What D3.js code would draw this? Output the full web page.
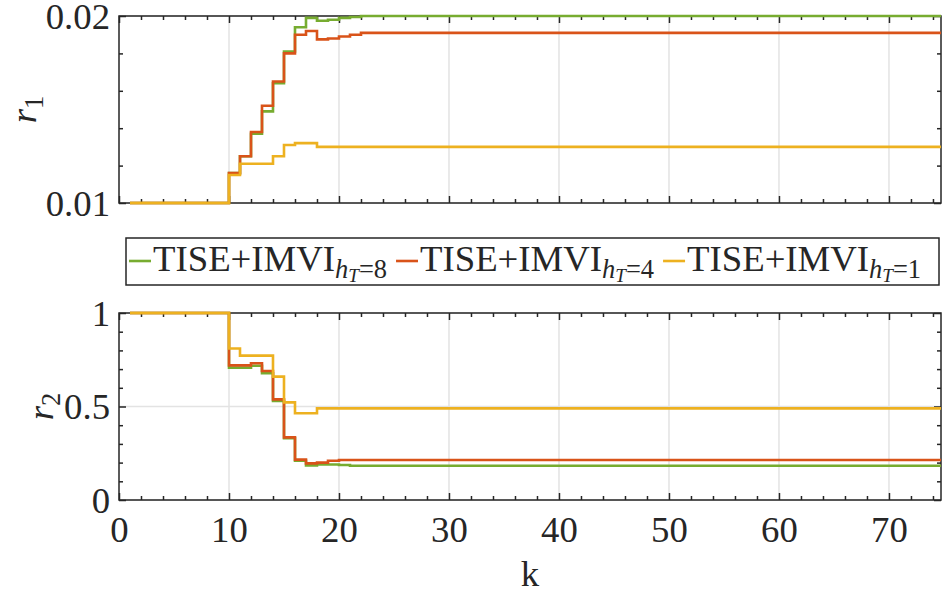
<!DOCTYPE html>
<html>
<head>
<meta charset="utf-8">
<script src="https://cdn.jsdelivr.net/npm/d3@7"></script>
<style>
    body { margin: 0; background: #fff; }
</style>
</head>
<body>
<div id="chart"></div>
<script>
'use strict'
// k where the stairs change value (last one = end of the run)
var kSteps = [1, 10, 11, 12, 13, 14, 15, 16, 17, 18, 19, 20, 21, 22, 75];

// r1 for each horizon h_T
var r1Ht8 = [0.01, 0.0116, 0.0125, 0.0137, 0.0149, 0.0164, 0.0181, 0.0194, 0.0199, 0.01975, 0.0198, 0.0199, 0.01995, 0.0200, 0.0200];
var r1Ht4 = [0.01, 0.0116, 0.0125, 0.0138, 0.0152, 0.0165, 0.0180, 0.0190, 0.0192, 0.01875, 0.0188, 0.0189, 0.0190, 0.0191, 0.0191];
var r1Ht1 = [0.01, 0.0115, 0.0121, 0.0121, 0.0121, 0.0125, 0.0131, 0.0132, 0.0132, 0.0130, 0.0130, 0.0130, 0.0130, 0.0130, 0.0130];

// r2 for each horizon h_T
var r2Ht8 = [1, 0.708, 0.708, 0.718, 0.678, 0.530, 0.330, 0.210, 0.185, 0.190, 0.190, 0.187, 0.183, 0.183, 0.183];
var r2Ht4 = [1, 0.720, 0.720, 0.731, 0.690, 0.538, 0.335, 0.216, 0.196, 0.200, 0.210, 0.214, 0.214, 0.214, 0.214];
var r2Ht1 = [1, 0.810, 0.772, 0.772, 0.772, 0.660, 0.522, 0.464, 0.464, 0.490, 0.490, 0.490, 0.490, 0.490, 0.490];

var seriesNames = ["8", "4", "1"];
var seriesColors = ["#77AC30", "#D95319", "#EDB120"];

var xTicks = [0, 10, 20, 30, 40, 50, 60, 70];
var r1Ticks = [0.01, 0.02];
var r2Ticks = [0, 0.5, 1];

var width = 942, height = 597;
var left = 119, right = 941;
var axisColor = "#262626", gridColor = "#e3e3e3";

// pick a Times-like font that is really there, and size it so
// "TISE+IMVI" is as wide as in the reference (~182px)
var canvas = document.createElement("canvas");
var ctx = canvas.getContext("2d");
function measure(str, font) {
    ctx.font = font;
    return ctx.measureText(str).width;
}
function hasFont(fam) {
    var probe = "mmmmwwwwlliiIIMM0123";
    return measure(probe, "40px " + fam + ", monospace") !== measure(probe, "40px monospace");
}
var fontFamily = ['"Liberation Serif"', '"Times New Roman"', 'Tinos', '"Nimbus Roman"', '"DejaVu Serif"', 'serif']
        .filter(hasFont)[0] || "serif";
var fontSize = Math.min(37, 37 * 182 / measure("TISE+IMVI", "37px " + fontFamily));
var subSize = fontSize * 0.72, subSubSize = fontSize * 0.52;

var panels = [
    {top: 16, bottom: 203, domain: [0.01, 0.02], ticks: r1Ticks, minorStep: 0.002,
        fmt: d3.format(".2f"), label: "1", labelX: 36, data: [r1Ht8, r1Ht4, r1Ht1], xLabels: false},
    {top: 313, bottom: 500, domain: [0, 1], ticks: r2Ticks, minorStep: 0.1,
        fmt: function (d) { return d === 0.5 ? "0.5" : String(d); }, label: "2", labelX: 53,
        data: [r2Ht8, r2Ht4, r2Ht1], xLabels: true}
];

var svg = d3.select("#chart").append("svg")
        .attr("width", width)
        .attr("height", height)
        .style("font-family", fontFamily);

var xScale = d3.scaleLinear().domain([0, 74.73]).range([left, right]);

function minorValues(lo, hi, step, majors) {
    var out = [];
    var n = Math.round((hi - lo) / step);
    for (var i = 0; i <= n; i++) {
        var v = +(lo + i * step).toFixed(6);
        if (majors.indexOf(v) < 0) out.push(v);
    }
    return out;
}

var xMinor = minorValues(0, 74, 2, xTicks);

panels.forEach(function (p, pi) {
    var yScale = d3.scaleLinear().domain(p.domain).range([p.bottom, p.top]);
    var g = svg.append("g").attr("class", "panel");
    var h = p.bottom - p.top;

    // grid
    g.selectAll("line.vgrid").data(xTicks.slice(1))
        .enter().append("line")
        .attr("x1", function (d) { return xScale(d); })
        .attr("x2", function (d) { return xScale(d); })
        .attr("y1", p.top).attr("y2", p.bottom)
        .style("stroke", gridColor).style("stroke-width", 1.5);
    g.selectAll("line.hgrid").data(p.ticks)
        .enter().append("line")
        .attr("x1", left).attr("x2", right)
        .attr("y1", function (d) { return yScale(d); })
        .attr("y2", function (d) { return yScale(d); })
        .style("stroke", gridColor).style("stroke-width", 1.5);

    // ticks on all four sides, pointing in
    var yMinor = minorValues(p.domain[0], p.domain[1], p.minorStep, p.ticks);
    var axes = [
        {ax: d3.axisBottom(xScale).tickValues(xTicks).tickSizeInner(-7), tr: "translate(0," + p.bottom + ")", labels: p.xLabels},
        {ax: d3.axisBottom(xScale).tickValues(xMinor).tickSizeInner(-4), tr: "translate(0," + p.bottom + ")"},
        {ax: d3.axisTop(xScale).tickValues(xTicks).tickSizeInner(-7), tr: "translate(0," + p.top + ")"},
        {ax: d3.axisTop(xScale).tickValues(xMinor).tickSizeInner(-4), tr: "translate(0," + p.top + ")"},
        {ax: d3.axisLeft(yScale).tickValues(p.ticks).tickSizeInner(-7), tr: "translate(" + left + ",0)", labels: true},
        {ax: d3.axisLeft(yScale).tickValues(yMinor).tickSizeInner(-4), tr: "translate(" + left + ",0)"},
        {ax: d3.axisRight(yScale).tickValues(p.ticks).tickSizeInner(-7), tr: "translate(" + right + ",0)"},
        {ax: d3.axisRight(yScale).tickValues(yMinor).tickSizeInner(-4), tr: "translate(" + right + ",0)"}
    ];
    axes.forEach(function (a, ai) {
        a.ax.tickSizeOuter(0).tickPadding(ai === 0 ? 16 : 9);
        if (!a.labels) a.ax.tickFormat("");
        else if (ai === 4) a.ax.tickFormat(p.fmt);
        var ag = g.append("g").attr("transform", a.tr).call(a.ax);
        ag.attr("font-family", null).attr("font-size", null);
        ag.select(".domain").remove();
        ag.selectAll("line").style("stroke", axisColor).style("stroke-width", 1.5);
        ag.selectAll("text").style("font-size", fontSize + "px").style("fill", axisColor);
        if (ai === 4) ag.selectAll("text").attr("dy", "0.33em");
        if (ai === 0) ag.selectAll("text").attr("dy", "0.71em");
    });

    g.append("rect")
        .attr("x", left).attr("y", p.top)
        .attr("width", right - left).attr("height", h)
        .style("fill", "none").style("stroke", axisColor).style("stroke-width", 1.5);

    // clip on x only, lines may sit on the box edge
    svg.append("defs").append("clipPath")
        .attr("id", "clip" + pi)
        .append("rect")
        .attr("x", left).attr("y", p.top - 4)
        .attr("width", right - left).attr("height", h + 8);

    var line = d3.line()
        .x(function (d, i) { return xScale(kSteps[i]); })
        .y(function (d) { return yScale(d); })
        .curve(d3.curveStepAfter);

    g.append("g").attr("clip-path", "url(#clip" + pi + ")")
        .selectAll("path.series").data(p.data)
        .enter().append("path")
        .attr("class", "series")
        .attr("d", function (d) { return line(d); })
        .style("fill", "none")
        .style("stroke", function (d, i) { return seriesColors[i]; })
        .style("stroke-width", 2.6)
        .style("stroke-linejoin", "miter");

    // y label r_n, rotated
    var yl = g.append("text")
        .attr("transform", "translate(" + p.labelX + "," + ((p.top + p.bottom) / 2) + ") rotate(-90)")
        .attr("text-anchor", "middle")
        .style("fill", axisColor)
        .style("font-size", fontSize + "px");
    yl.append("tspan").style("font-style", "italic").text("r");
    yl.append("tspan").attr("dy", 7).style("font-size", subSize + "px").text(p.label);
});

// x label
svg.append("text")
    .attr("x", (left + right) / 2)
    .attr("y", 586)
    .attr("text-anchor", "middle")
    .style("fill", axisColor)
    .style("font-size", fontSize + "px")
    .text("k");

// legend
var legendG = svg.append("g").attr("class", "legend");
var legendBox = legendG.append("rect");
var legY = 261, cursor = 129;
seriesNames.forEach(function (name, i) {
    legendG.append("line")
        .attr("x1", cursor).attr("x2", cursor + 22)
        .attr("y1", legY).attr("y2", legY)
        .style("stroke", seriesColors[i]).style("stroke-width", 2.6);
    cursor += 24;
    var t = legendG.append("text")
        .attr("x", cursor).attr("y", legY + 10)
        .style("fill", axisColor)
        .style("font-size", fontSize + "px");
    t.append("tspan").text("TISE+IMVI");
    t.append("tspan").attr("dy", 7).style("font-size", subSize + "px").style("font-style", "italic").text("h");
    t.append("tspan").attr("dy", 4).style("font-size", subSubSize + "px").style("font-style", "italic").text("T");
    t.append("tspan").attr("dy", -4).style("font-size", subSize + "px").text("=" + name);
    cursor += t.node().getComputedTextLength() + 9;
});
legendBox
    .attr("x", 126).attr("y", 238)
    .attr("width", Math.max(813, cursor - 126)).attr("height", 47)
    .style("fill", "#fff").style("stroke", axisColor).style("stroke-width", 1.5);
</script>
</body>
</html>
